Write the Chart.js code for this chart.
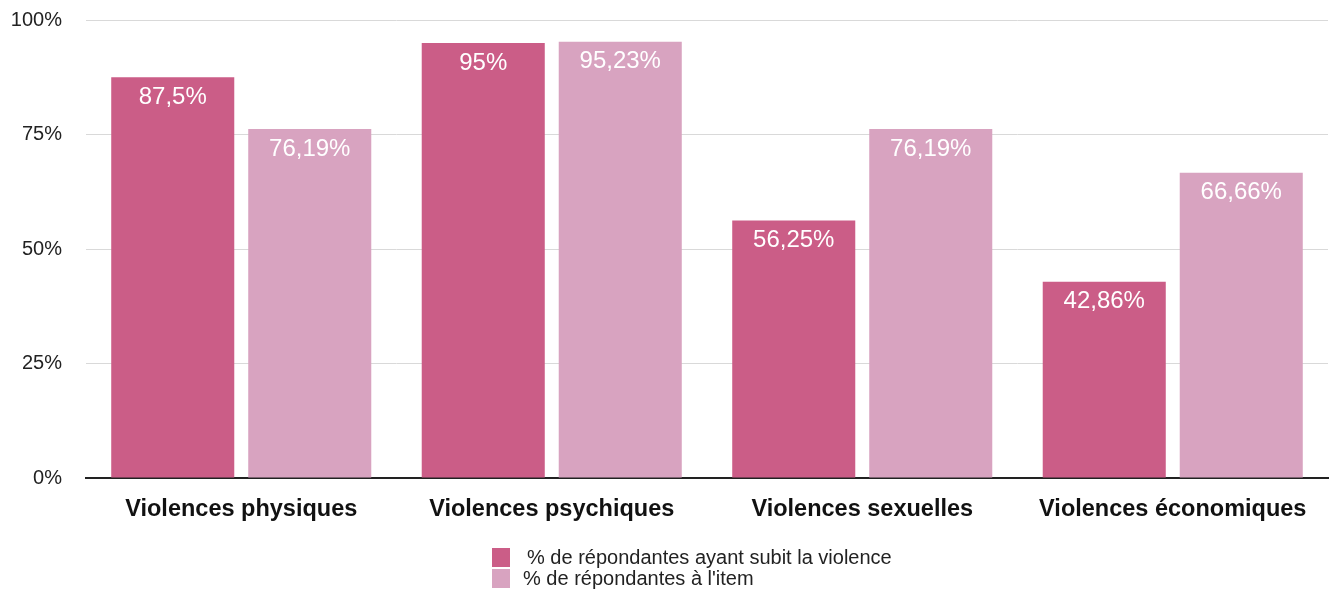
<!DOCTYPE html>
<html>
<head>
<meta charset="utf-8">
<script src="https://cdn.jsdelivr.net/npm/chart.js@4.4.0/dist/chart.umd.min.js"></script>
<style>
html,body{margin:0;padding:0;background:#fff;}
#wrap{width:1336px;height:592px;position:relative;}
</style>
</head>
<body>
<div id="wrap"><canvas id="c" width="1336" height="592"></canvas></div>
<script>
const categories = ["Violences physiques", "Violences psychiques", "Violences sexuelles", "Violences économiques"];
const seriesNames = ["% de répondantes ayant subit la violence", "% de répondantes à l'item"];
const seriesA = [87.5, 95, 56.25, 42.86];
const seriesB = [76.19, 95.23, 76.19, 66.66];
const yTicks = [0, 25, 50, 75, 100];
const colorA = "#CB5D87";
const colorB = "#D8A3C0";

const FONT = "'Liberation Sans', Arial, Helvetica, sans-serif";

function fmt(v){ return String(v).replace('.', ',') + '%'; }

const labelPlugin = {
  id: 'barLabels',
  afterDatasetsDraw(chart){
    const ctx = chart.ctx;
    ctx.save();
    ctx.fillStyle = '#ffffff';
    ctx.font = '24px ' + FONT;
    ctx.textAlign = 'center';
    ctx.textBaseline = 'middle';
    chart.data.datasets.forEach((ds, i) => {
      const meta = chart.getDatasetMeta(i);
      meta.data.forEach((bar, j) => {
        ctx.fillText(fmt(ds.data[j]), bar.x, bar.y + 20);
      });
    });
    ctx.restore();
  }
};

const legendPlugin = {
  id: 'stackLegend',
  afterDraw(chart){
    const ctx = chart.ctx;
    ctx.save();
    ctx.font = '20px ' + FONT;
    ctx.textBaseline = 'middle';
    ctx.textAlign = 'left';
    const colors = [colorA, colorB];
    const boxX = 492, boxW = 18, boxH = 19;
    const tops = [548, 569];
    const textX = [527, 523];
    seriesNames.forEach((name, i) => {
      ctx.fillStyle = colors[i];
      ctx.fillRect(boxX, tops[i], boxW, boxH);
      ctx.fillStyle = '#222';
      ctx.fillText(name, textX[i], tops[i] + boxH/2 + 1);
    });
    ctx.restore();
  }
};

new Chart(document.getElementById('c'), {
  type: 'bar',
  data: {
    labels: categories,
    datasets: [
      { label: seriesNames[0], data: seriesA, backgroundColor: colorA, borderWidth: 0 },
      { label: seriesNames[1], data: seriesB, backgroundColor: colorB, borderWidth: 0 }
    ]
  },
  options: {
    responsive: false,
    animation: false,
    devicePixelRatio: 1,
    layout: { padding: { left: 0, right: 8, top: 20, bottom: 64 } },
    datasets: { bar: { categoryPercentage: 0.8825, barPercentage: 0.898 } },
    plugins: {
      legend: { display: false },
      tooltip: { enabled: false }
    },
    scales: {
      x: {
        grid: { display: false, drawTicks: false },
        border: { display: true, color: '#222', width: 2 },
        ticks: { color: '#111', font: { family: FONT, size: 23.5, weight: 'bold' }, padding: 17, maxRotation: 0, autoSkip: false },
        afterFit(scale){ scale.height = 50; }
      },
      y: {
        min: 0, max: 100,
        afterBuildTicks(scale){ scale.ticks = yTicks.map(v => ({ value: v })); },
        grid: { color: '#d9d9d9', lineWidth: 1, drawTicks: false },
        border: { display: false },
        ticks: { color: '#222', font: { family: FONT, size: 20 }, padding: 24, callback: v => v + '%' },
        afterFit(scale){ scale.width = 86; scale.paddingTop = 0; scale.paddingBottom = 0; }
      }
    }
  },
  plugins: [labelPlugin, legendPlugin]
});
</script>
</body>
</html>
